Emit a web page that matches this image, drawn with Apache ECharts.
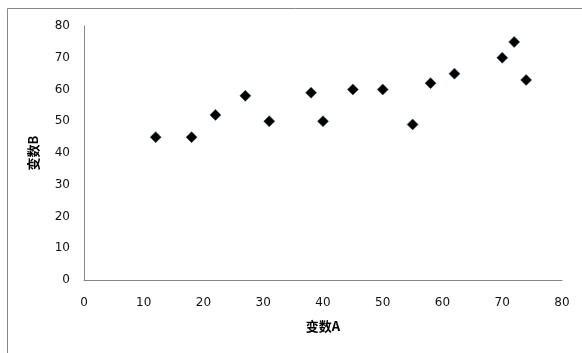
<!DOCTYPE html>
<html><head><meta charset="utf-8">
<script src="https://cdn.jsdelivr.net/npm/echarts@6/dist/echarts.min.js"></script>
<style>html,body{margin:0;padding:0;background:#fff}#c{width:582px;height:353px}</style>
</head><body><div id="c"></div>
<script>
const xValues = [12, 18, 22, 27, 31, 38, 40, 45, 50, 55, 58, 62, 70, 72, 74];
const yValues = [45, 45, 52, 58, 50, 59, 50, 60, 60, 49, 62, 65, 70, 75, 63];
const xName = '变数A';
const yName = '变数B';
const data = xValues.map((x, i) => [x, yValues[i]]);
const chart = echarts.init(document.getElementById('c'));
const labelStyle = {color: '#111', fontSize: 12, fontFamily: 'DejaVu Sans'};
chart.setOption({
  animation: false,
  graphic: [{type: 'rect', shape: {x: 7.5, y: 8.5, width: 700, height: 500},
    style: {fill: 'none', stroke: '#868686', lineWidth: 1}, silent: true}],
  grid: {left: 84, top: 26, right: 20, bottom: 73},
  xAxis: {type: 'value', min: 0, max: 80, interval: 10,
    name: xName, nameLocation: 'middle', nameGap: 40,
    nameTextStyle: {fontFamily: 'Noto Sans CJK SC', fontWeight: 'bold', fontSize: 13, color: '#000'},
    axisLine: {show: true, lineStyle: {color: '#868686', width: 1}},
    axisTick: {show: false}, splitLine: {show: false},
    axisLabel: Object.assign({margin: 17}, labelStyle)},
  yAxis: {type: 'value', min: 0, max: 80, interval: 10,
    name: yName, nameLocation: 'middle', nameGap: 44, nameRotate: 90,
    nameTextStyle: {fontFamily: 'Noto Sans CJK SC', fontWeight: 'bold', fontSize: 13, color: '#000'},
    axisLine: {show: true, lineStyle: {color: '#868686', width: 1}},
    axisTick: {show: false}, splitLine: {show: false},
    axisLabel: Object.assign({margin: 14, padding: [3, 0, 0, 0]}, labelStyle)},
  series: [{type: 'scatter', data: data, symbol: 'diamond', symbolSize: 11,
    itemStyle: {color: '#000', opacity: 1, borderColor: '#1f3f4f', borderWidth: 0.5}}]
});
</script></body></html>
